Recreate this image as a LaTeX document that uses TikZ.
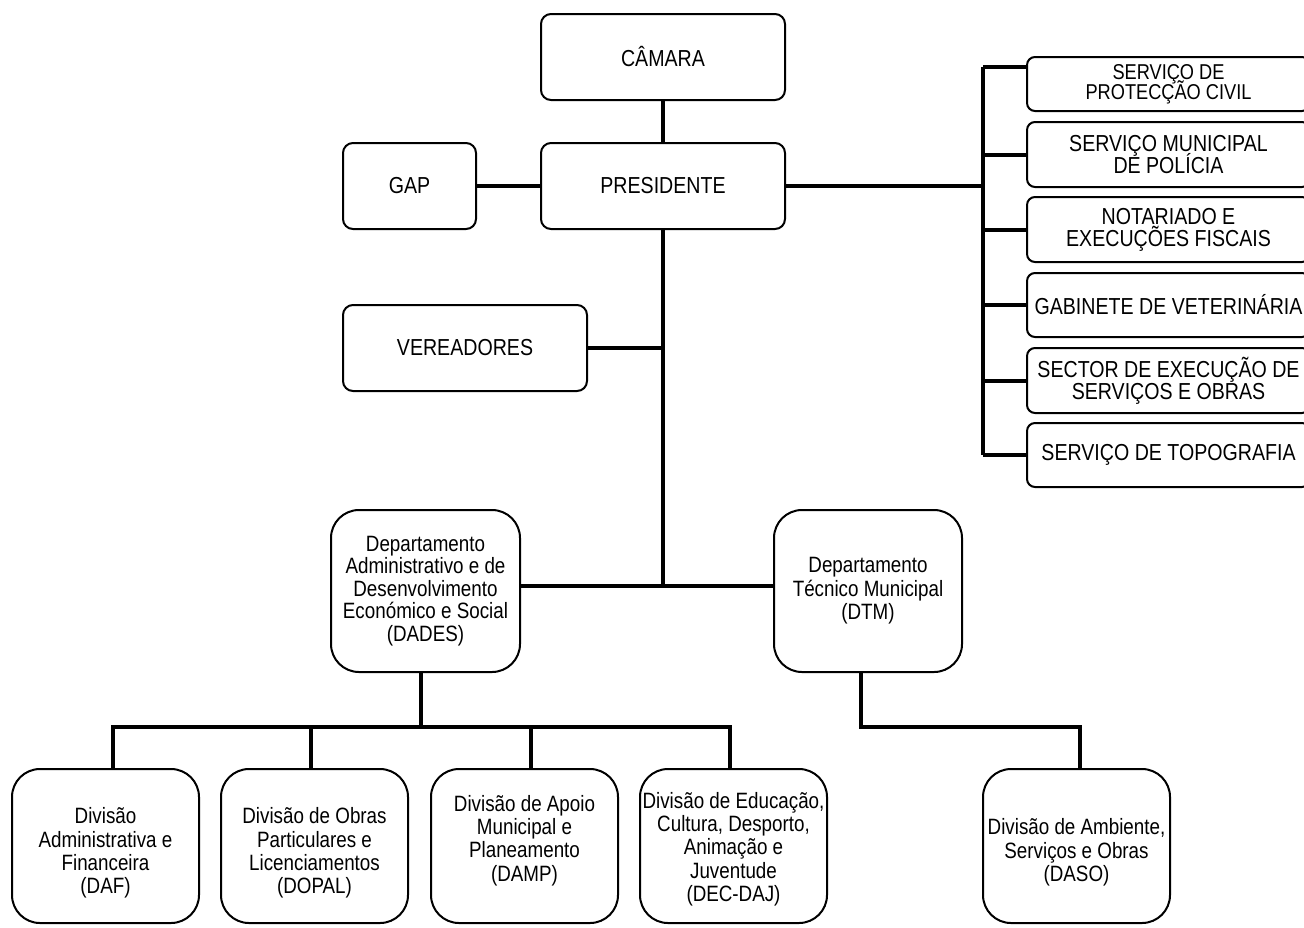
\documentclass[tikz,border=0pt]{standalone}
\usepackage{fontspec}
\setmainfont{Liberation Sans}
\usepackage{graphicx}
\newcommand{\mytxt}[2][0pt]{\smash{\raisebox{\dimexpr0.5\depth-0.5\height+#1\relax}{\scalebox{1}[1.18]{\vbox{\lineskiplimit=-100pt\lineskip=0pt\let\\\cr\halign{\hfil##\hfil\cr#2\crcr}}}}}}
\begin{document}
\begin{tikzpicture}[x=0.5pt,y=-0.5pt,
  box/.style={draw,line width=1pt,rounded corners=5pt,inner sep=0pt,align=center,fill=white,
    font=\fontsize{9.8}{9.3}\selectfont},
  rbox/.style={box,rounded corners=4pt,minimum width=141.5pt},
  dbox/.style={box,rounded corners=14pt,font=\fontsize{9.4}{9.9}\selectfont},
  conn/.style={line width=2pt}]
\useasboundingbox (0,0) rectangle (1304,927);
% top
\node[box,minimum width=122pt,minimum height=43pt] (camara) at (663,57) {\mytxt{CÂMARA}};
\node[box,minimum width=122pt,minimum height=43pt] (pres) at (663,186) {\mytxt{PRESIDENTE}};
\node[box,minimum width=66.5pt,minimum height=43pt] (gap) at (409.5,186) {\mytxt{GAP}};
\node[box,minimum width=122pt,minimum height=43pt] (ver) at (465,348) {\mytxt{VEREADORES}};
% right column
\node[rbox,minimum height=27pt,font=\fontsize{9.1}{8.5}\selectfont] (r1) at (1168.5,84) {\mytxt{SERVIÇO DE\\PROTECÇÃO CIVIL}};
\node[rbox,minimum height=32.5pt] (r2) at (1168.5,154.5) {\mytxt{SERVIÇO MUNICIPAL\\DE POLÍCIA}};
\node[rbox,minimum height=32.5pt] (r3) at (1168.5,229.5) {\mytxt{NOTARIADO E\\EXECUÇÕES FISCAIS}};
\node[rbox,minimum height=32pt] (r4) at (1168.5,305) {\mytxt{GABINETE DE VETERINÁRIA}};
\node[rbox,minimum height=32.5pt] (r5) at (1168.5,380.5) {\mytxt{SECTOR DE EXECUÇÃO DE\\SERVIÇOS E OBRAS}};
\node[rbox,minimum height=32pt] (r6) at (1168.5,455) {\mytxt{SERVIÇO DE TOPOGRAFIA}};
% departments
\node[dbox,minimum width=94.5pt,minimum height=81pt,font=\fontsize{9.4}{9.5}\selectfont] (dades) at (425.5,591) {\mytxt{Departamento\\Administrativo e de\\Desenvolvimento\\Económico e Social\\(DADES)}};
\node[dbox,minimum width=94pt,minimum height=81pt] (dtm) at (868,591) {\mytxt{Departamento\\Técnico Municipal\\(DTM)}};
% divisions
\node[dbox,minimum width=93.5pt,minimum height=77pt] (daf) at (105.5,846) {\mytxt[-3.5pt]{Divisão\\Administrativa e\\Financeira\\(DAF)}};
\node[dbox,minimum width=93.5pt,minimum height=77pt] (dopal) at (314.5,846) {\mytxt[-3.5pt]{Divisão de Obras\\Particulares e\\Licenciamentos\\(DOPAL)}};
\node[dbox,minimum width=93.5pt,minimum height=77pt] (damp) at (524.5,846) {\mytxt[2.75pt]{Divisão de Apoio\\Municipal e\\Planeamento\\(DAMP)}};
\node[dbox,minimum width=93.5pt,minimum height=77pt] (dec) at (733.5,846) {\mytxt[-1.5pt]{Divisão de Educação,\\Cultura, Desporto,\\Animação e\\Juventude\\(DEC-DAJ)}};
\node[dbox,minimum width=93.5pt,minimum height=77pt] (daso) at (1076.5,846) {\mytxt[-3.25pt]{Divisão de Ambiente,\\Serviços e Obras\\(DASO)}};
% connectors
\draw[conn] (camara) -- (pres);
\draw[conn] (gap) -- (pres);
\coordinate (j) at (663,586);
\draw[conn] (pres.south) -- (j);
\draw[conn] (ver.east) -- (ver.east -| pres.south);
\draw[conn] (dades.east |- j) -- (dtm.west |- j);
% right bus
\coordinate (b1) at (983,67);
\coordinate (b6) at (983,455);
\draw[conn] (pres.east) -- (pres.east -| b1);
\draw[conn] (b1) -- (b6);
\draw[conn] (b1) -- (b1 -| r1.west);
\draw[conn] (r2.west) -- (r2.west -| b1);
\draw[conn] (r3.west) -- (r3.west -| b1);
\draw[conn] (r4.west) -- (r4.west -| b1);
\draw[conn] (r5.west) -- (r5.west -| b1);
\draw[conn] (r6.west) -- (r6.west -| b1);
% lower bus
\coordinate (bb) at (421,727);
\coordinate (bl) at (113,727);
\coordinate (t2) at (311,727);
\coordinate (t3) at (531,727);
\coordinate (br) at (730,727);
\draw[conn] (bb |- dades.south) -- (bb);
\draw[conn] (bl |- daf.north) -- (bl) -- (br) -- (br |- dec.north);
\draw[conn] (t2) -- (t2 |- dopal.north);
\draw[conn] (t3) -- (t3 |- damp.north);
\coordinate (d1) at (861,727);
\coordinate (d2) at (1080,727);
\draw[conn] (d1 |- dtm.south) -- (d1) -- (d2) -- (d2 |- daso.north);
\end{tikzpicture}
\end{document}
